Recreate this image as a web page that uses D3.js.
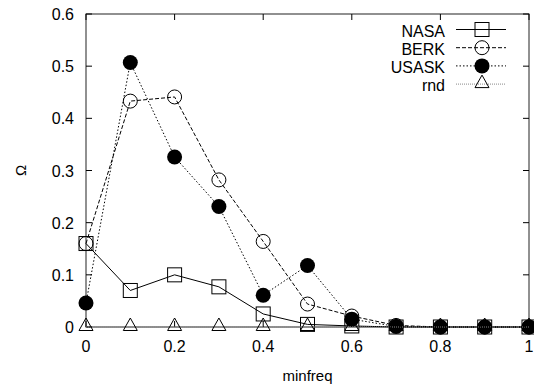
<!DOCTYPE html>
<html>
<head>
<meta charset="utf-8">
<script src="https://cdn.jsdelivr.net/npm/d3@7"></script>
<style>
  body { margin: 0; background: #fff; }
  text { font-family: "Liberation Sans", Arial, sans-serif; fill: #000; }
</style>
</head>
<body>
<div id="chart"></div>
<script>
const minfreq = [0, 0.1, 0.2, 0.3, 0.4, 0.5, 0.6, 0.7, 0.8, 0.9, 1.0]
const nasa  = [0.160, 0.070, 0.100, 0.077, 0.025, 0.005, 0.002, 0.000, 0.000, 0.000, 0.000]
const berk  = [0.160, 0.433, 0.441, 0.282, 0.164, 0.044, 0.021, 0.003, 0.000, 0.000, 0.000]
const usask = [0.046, 0.507, 0.326, 0.231, 0.061, 0.118, 0.015, 0.001, 0.000, 0.000, 0.000]
const rnd   = [0, 0, 0, 0, 0, 0, 0, 0, 0, 0, 0]
const xTicks = [0, 0.2, 0.4, 0.6, 0.8, 1]
const yTicks = [0, 0.1, 0.2, 0.3, 0.4, 0.5, 0.6]

const series = [
    {name: "NASA",  values: nasa,  marker: "square",   dash: null,  stroke: "#000"},
    {name: "BERK",  values: berk,  marker: "circle",   dash: "4,2", stroke: "#000"},
    {name: "USASK", values: usask, marker: "dot",      dash: "1.5,2", stroke: "#000"},
    {name: "rnd",   values: rnd,   marker: "triangle", dash: "1,1", stroke: "#888"},
]

const width = 534, height = 387
const plot = {left: 86, right: 529, top: 14, bottom: 327}

const svg = d3.select("#chart").append("svg")
    .attr("width", width)
    .attr("height", height)

const x = d3.scaleLinear().domain([0, 1]).range([plot.left, plot.right])
const y = d3.scaleLinear().domain([0, 0.6]).range([plot.bottom, plot.top])

// frame
svg.append("rect")
    .attr("x", plot.left).attr("y", plot.top)
    .attr("width", plot.right - plot.left).attr("height", plot.bottom - plot.top)
    .attr("fill", "none").attr("stroke", "#222").attr("stroke-width", 1)

// inward ticks on all four sides
const tk = 6
const ticks = svg.append("g").attr("stroke", "#000").attr("stroke-width", 1)
yTicks.forEach(v => {
    ticks.append("line").attr("x1", plot.left).attr("x2", plot.left + tk).attr("y1", y(v)).attr("y2", y(v))
    ticks.append("line").attr("x1", plot.right).attr("x2", plot.right - tk).attr("y1", y(v)).attr("y2", y(v))
    svg.append("text").attr("x", 74).attr("y", y(v) + 6)
        .attr("text-anchor", "end").attr("font-size", 16)
        .text(d3.format("")(v))
})
xTicks.forEach(v => {
    ticks.append("line").attr("x1", x(v)).attr("x2", x(v)).attr("y1", plot.bottom).attr("y2", plot.bottom - tk)
    ticks.append("line").attr("x1", x(v)).attr("x2", x(v)).attr("y1", plot.top).attr("y2", plot.top + tk)
    svg.append("text").attr("x", x(v)).attr("y", 352)
        .attr("text-anchor", "middle").attr("font-size", 16)
        .text(d3.format("")(v))
})

// axis titles
svg.append("text").attr("x", (plot.left + plot.right) / 2).attr("y", 381)
    .attr("text-anchor", "middle").attr("font-size", 15).text("minfreq")
svg.append("text")
    .attr("transform", `translate(26,${(plot.top + plot.bottom) / 2}) rotate(-90)`)
    .attr("text-anchor", "middle").attr("font-size", 15).text("Ω")

function drawMarker(g, kind, cx, cy) {
    if (kind === "square") {
        g.append("rect").attr("x", cx - 7).attr("y", cy - 7).attr("width", 14).attr("height", 14)
            .attr("fill", "none").attr("stroke", "#000").attr("stroke-width", 1)
    } else if (kind === "circle") {
        g.append("circle").attr("cx", cx).attr("cy", cy).attr("r", 7)
            .attr("fill", "none").attr("stroke", "#000").attr("stroke-width", 1)
    } else if (kind === "dot") {
        g.append("circle").attr("cx", cx).attr("cy", cy).attr("r", 7.5)
            .attr("fill", "#000")
    } else if (kind === "triangle") {
        g.append("path").attr("d", `M${cx - 7},${cy + 3.5}L${cx + 7},${cy + 3.5}L${cx},${cy - 9}Z`)
            .attr("fill", "none").attr("stroke", "#000").attr("stroke-width", 1)
    }
}

const line = d3.line().x((d, i) => x(minfreq[i])).y(d => y(d))

series.forEach(s => {
    const g = svg.append("g")
    g.append("path").datum(s.values)
        .attr("d", line)
        .attr("fill", "none")
        .attr("stroke", s.stroke)
        .attr("stroke-width", 1)
        .attr("stroke-dasharray", s.dash)
    s.values.forEach((v, i) => drawMarker(g, s.marker, x(minfreq[i]), y(v)))
})

// legend
const legend = svg.append("g")
series.forEach((s, i) => {
    const ly = 29.5 + i * 18.2
    legend.append("text").attr("x", 445).attr("y", ly + 7)
        .attr("text-anchor", "end").attr("font-size", 16).text(s.name)
    legend.append("line").attr("x1", 456).attr("x2", 506).attr("y1", ly).attr("y2", ly)
        .attr("stroke", s.stroke).attr("stroke-width", 1).attr("stroke-dasharray", s.dash)
    drawMarker(legend, s.marker, 482, ly)
})
</script>
</body>
</html>
